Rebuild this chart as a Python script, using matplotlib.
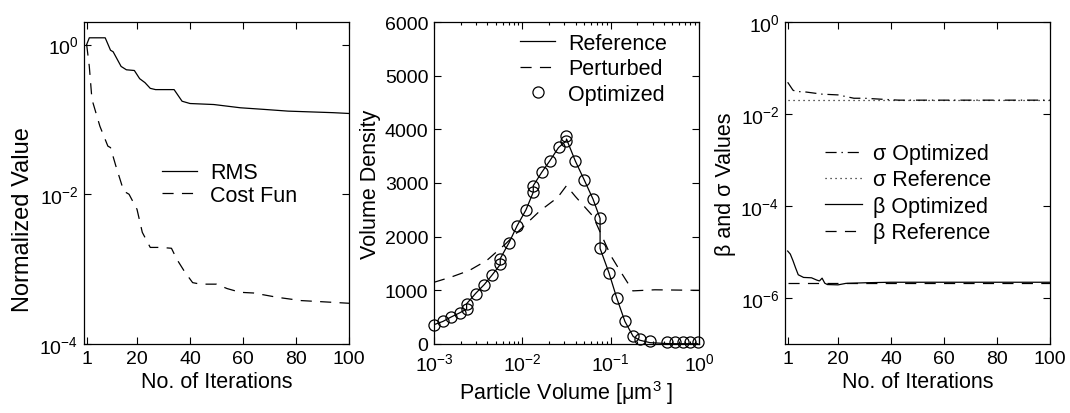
import numpy as np
import matplotlib
matplotlib.use("Agg")
import matplotlib.pyplot as plt
from matplotlib.ticker import NullLocator, LogLocator

plt.rcParams['font.family'] = ['Liberation Sans', 'DejaVu Sans']
plt.rcParams['font.size'] = 14
plt.rcParams['mathtext.fontset'] = 'custom'
plt.rcParams['mathtext.rm'] = 'Liberation Sans'
plt.rcParams['mathtext.it'] = 'Liberation Sans:italic'
plt.rcParams['lines.scale_dashes'] = False
plt.rcParams['axes.linewidth'] = 0.9

# --- panel 1: convergence ---
rms_iter = [1, 2, 8, 10, 11, 14, 16, 19, 21, 23, 25, 27, 34, 37, 40, 49, 59, 68, 77, 94, 100]
rms_val = [1.0, 1.23, 1.23, 0.84, 0.80, 0.51, 0.46, 0.45, 0.35, 0.31, 0.26, 0.25, 0.25,
           0.175, 0.163, 0.158, 0.143, 0.136, 0.129, 0.123, 0.12]
cost_iter = [1, 2, 3, 6, 9, 10, 12, 15, 17, 20, 22, 25, 29, 33, 35, 38, 41, 44, 50, 54,
             59, 64, 73, 82, 94, 100]
cost_val = [1.0, 0.51, 0.185, 0.081, 0.044, 0.042, 0.024, 0.011, 0.010, 0.0063, 0.0031,
            0.00195, 0.00195, 0.0019, 0.00136, 0.00092, 0.00066, 0.00063, 0.00063, 0.00055,
            0.00049, 0.00048, 0.00042, 0.00038, 0.00036, 0.00035]

# --- panel 2: size distribution ---
opt_vol = [0.001, 0.00126, 0.00155, 0.00195, 0.00234, 0.00234, 0.00295, 0.00372, 0.00457,
           0.00562, 0.00562, 0.00708, 0.00871, 0.011, 0.0133, 0.0133, 0.0166, 0.0204, 0.0257,
           0.0316, 0.0316, 0.0398, 0.0501, 0.0631, 0.0759, 0.0759, 0.0955, 0.117, 0.145,
           0.18, 0.214, 0.279, 0.437, 0.537, 0.661, 0.794, 0.97]
opt_density = [361, 422, 505, 579, 654, 753, 940, 1108, 1290, 1482, 1589, 1888, 2199, 2497,
               2834, 2946, 3196, 3413, 3664, 3787, 3880, 3413, 3058, 2697, 2340, 1780, 1327,
               860, 422, 142, 93, 49, 37, 37, 37, 37, 37]
ref_vol = opt_vol
ref_density = [360, 420, 500, 580, 650, 750, 940, 1110, 1290, 1480, 1590, 1890, 2200, 2500,
               2830, 2950, 3200, 3410, 3660, 3790, 3820, 3410, 3060, 2700, 2340, 1780, 1330,
               860, 420, 140, 70, 25, 8, 5, 5, 5, 5]
pert_vol = [0.001, 0.00158, 0.00251, 0.00398, 0.00631, 0.01, 0.0158, 0.0251, 0.0316, 0.0398,
            0.0631, 0.1, 0.126, 0.178, 0.316, 1.0]
pert_density = [1150, 1250, 1370, 1560, 1850, 2170, 2480, 2730, 2950, 2750, 2380, 1650, 1380,
                990, 1010, 1000]

# --- panel 3: parameters ---
sig_opt_iter = [1, 3, 4, 8, 14, 20, 26, 30, 38, 43, 100]
sig_opt = [0.049, 0.033, 0.031, 0.030, 0.027, 0.026, 0.022, 0.022, 0.0207, 0.020, 0.020]
sig_ref_iter = [1, 100]
sig_ref = [0.02, 0.02]
beta_opt_iter = [1, 2, 3, 4, 5, 7, 10, 12, 13, 14, 15, 16, 20, 23, 31, 40, 100]
beta_opt = [1.05e-5, 9e-6, 6.5e-6, 4.5e-6, 3.2e-6, 2.8e-6, 2.75e-6, 2.45e-6, 2.35e-6, 2.7e-6,
            2.1e-6, 1.96e-6, 1.93e-6, 2.08e-6, 2.15e-6, 2.2e-6, 2.2e-6]
beta_ref_iter = [1, 100]
beta_ref = [2.15e-6, 2.15e-6]

iter_ticks = [1, 20, 40, 60, 80, 100]

DASH = (0, (8, 6))
DOT = (0, (0.8, 2.8))
DASHDOT = (0, (8, 3.5, 1, 3.5))
LW = 0.9
LAB = 15.5   # axis label size
LEG = 15.5   # legend text size

fig = plt.figure(figsize=(10.7, 4.14), dpi=100)
W = 265 / 1070
B = 69 / 414
H = 322 / 414
ax1 = fig.add_axes([84 / 1070, B, W, H])
ax2 = fig.add_axes([434 / 1070, B, W, H])
ax3 = fig.add_axes([785 / 1070, B, W, H])


def style(ax):
    ax.tick_params(which='both', direction='in', top=True, right=True, width=0.8)
    ax.tick_params(which='major', length=5, pad=4)
    ax.tick_params(which='minor', length=2.5)


# panel 1
ax1.semilogy(rms_iter, rms_val, 'k-', lw=LW, label='RMS')
ax1.semilogy(cost_iter, cost_val, color='k', ls=DASH, lw=LW, label='Cost Fun')
ax1.set_xlim(0, 100)
ax1.set_ylim(1e-4, 2)
ax1.set_yticks([1e-4, 1e-2, 1e0])
ax1.yaxis.set_minor_locator(NullLocator())
ax1.set_xticks(iter_ticks)
ax1.set_xlabel('No. of Iterations', fontsize=LAB, labelpad=3)
ax1.set_ylabel('Normalized Value', fontsize=17)
ax1.yaxis.set_label_coords(-0.19, 0.39)
style(ax1)
ax1.legend(loc='upper left', bbox_to_anchor=(0.294, 0.565), frameon=False, borderpad=0,
           borderaxespad=0, handlelength=1.63, handletextpad=0.6, labelspacing=0.08,
           fontsize=LEG)

# panel 2
ax2.semilogx(ref_vol, ref_density, 'k-', lw=LW, label='Reference')
ax2.semilogx(pert_vol, pert_density, color='k', ls=DASH, lw=LW, label='Perturbed')
ax2.semilogx(opt_vol, opt_density, 'ko', mfc='none', ms=8, mew=0.9, ls='none',
             label='Optimized', clip_on=False)
ax2.set_xlim(1e-3, 1)
ax2.set_ylim(0, 6000)
ax2.set_yticks(np.arange(0, 6001, 1000))
ax2.xaxis.set_major_locator(LogLocator(base=10, numticks=10))
ax2.xaxis.set_minor_locator(LogLocator(base=10, subs=np.arange(2, 10), numticks=10))
ax2.set_xlabel('Particle Volume [μm$^{3}$ ]', fontsize=LAB, labelpad=3)
ax2.set_ylabel('Volume Density', fontsize=LAB, labelpad=3)
style(ax2)
ax2.tick_params(axis='x', which='major', pad=6)
ax2.legend(loc='upper left', bbox_to_anchor=(0.325, 0.966), frameon=False, borderpad=0,
           borderaxespad=0, handlelength=1.63, handletextpad=0.6, labelspacing=0.2,
           fontsize=LEG)

# panel 3
ax3.semilogy(sig_opt_iter, sig_opt, color='k', ls=DASHDOT, lw=LW, label='σ Optimized')
ax3.semilogy(sig_ref_iter, sig_ref, color='k', ls=DOT, lw=LW, label='σ Reference')
ax3.semilogy(beta_opt_iter, beta_opt, 'k-', lw=LW, label='β Optimized')
ax3.semilogy(beta_ref_iter, beta_ref, color='k', ls=DASH, lw=LW, label='β Reference')
ax3.set_xlim(0, 100)
ax3.set_ylim(1e-7, 1)
ax3.set_yticks([1e-6, 1e-4, 1e-2, 1e0])
ax3.yaxis.set_minor_locator(NullLocator())
ax3.set_xticks(iter_ticks)
ax3.set_xlabel('No. of Iterations', fontsize=LAB, labelpad=3)
ax3.set_ylabel('β and σ Values', fontsize=LAB, labelpad=3)
style(ax3)
ax3.legend(loc='upper left', bbox_to_anchor=(0.151, 0.624), frameon=False, borderpad=0,
           borderaxespad=0, handlelength=1.72, handletextpad=0.5, labelspacing=0.25,
           fontsize=LEG)

fig.savefig('out.png', dpi=100)
